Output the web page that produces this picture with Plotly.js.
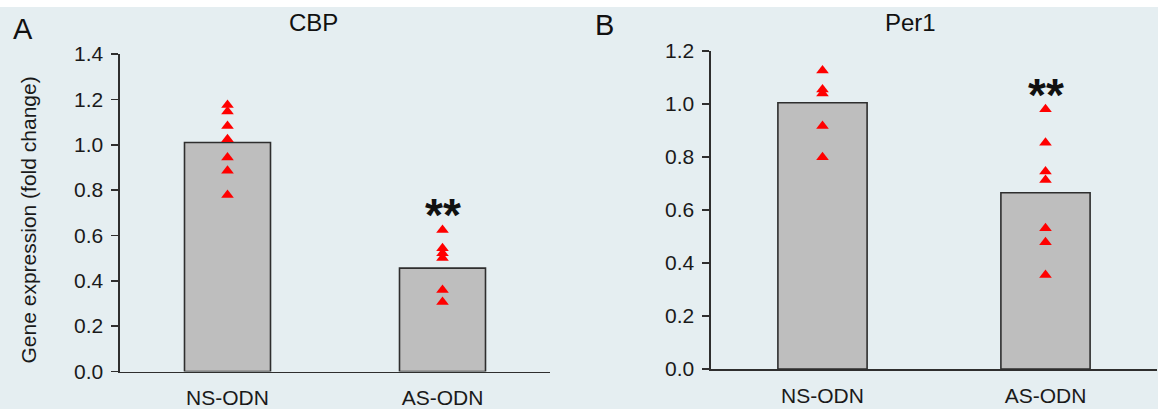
<!DOCTYPE html>
<html>
<head>
<meta charset="utf-8">
<script src="https://cdn.plot.ly/plotly-3.0.1.min.js"></script>
<style>
html,body{margin:0;padding:0;background:#ffffff;}
#chart{width:1158px;height:409px;}
</style>
</head>
<body>
<div id="chart"></div>
<script>
// ---- data ----
const categories = ["NS-ODN", "AS-ODN"];
const cbpMeans = [1.01, 0.456];
const cbpNS = [1.175, 1.146, 1.083, 1.024, 0.944, 0.885, 0.778];
const cbpAS = [0.624, 0.543, 0.521, 0.501, 0.359, 0.307];
const per1Means = [1.005, 0.665];
const per1NS = [1.126, 1.055, 1.040, 0.917, 0.799];
const per1AS = [0.980, 0.854, 0.745, 0.713, 0.531, 0.478, 0.355];
const panelTitles = ["CBP", "Per1"];
const panelLetters = ["A", "B"];
const yTitle = "Gene expression (fold change)";
const sigMark = "**";
const sigLevelA = 0.716;
const sigLevelB = 1.055;

const FONT = "Liberation Sans, Arial, sans-serif";
const BG = "#e5eef1";

function bar(y, xa, ya) {
  return {type: "bar", x: categories, y: y, xaxis: xa, yaxis: ya, width: 0.4,
    marker: {color: "#bebebe", line: {color: "#2e2e2e", width: 1.6}},
    hoverinfo: "skip", showlegend: false};
}
function pts(cat, ys, xa, ya) {
  return {type: "scatter", mode: "markers", x: ys.map(() => cat), y: ys, xaxis: xa, yaxis: ya,
    marker: {symbol: "triangle-up", color: "#ff0000", size: 11},
    hoverinfo: "skip", showlegend: false};
}

const data = [
  bar(cbpMeans, "x", "y"),
  pts(categories[0], cbpNS, "x", "y"),
  pts(categories[1], cbpAS, "x", "y"),
  bar(per1Means, "x2", "y2"),
  pts(categories[0], per1NS, "x2", "y2"),
  pts(categories[1], per1AS, "x2", "y2")
];

const H = 409, W = 1158;
const xaxisBase = {type: "category", range: [-0.5, 1.5], showline: true, linecolor: "#2e2e2e", linewidth: 1.6,
  ticks: "", showgrid: false, zeroline: false, fixedrange: true,
  tickfont: {family: FONT, size: 21, color: "#1a1a1a"}, ticklabelstandoff: 7};
const yaxisBase = {showline: true, linecolor: "#2e2e2e", linewidth: 1.6, ticks: "outside", ticklen: 7,
  tickwidth: 1.6, tickcolor: "#2e2e2e", showgrid: false, zeroline: false, dtick: 0.2, tickformat: ".1f",
  tickfont: {family: FONT, size: 21, color: "#1a1a1a"}, ticklabelstandoff: 4, fixedrange: true};

const layout = {
  width: W, height: H,
  margin: {l: 0, r: 0, t: 0, b: 0},
  paper_bgcolor: "#ffffff",
  plot_bgcolor: "rgba(0,0,0,0)",
  xaxis: Object.assign({}, xaxisBase, {domain: [120 / W, 550 / W], anchor: "y"}),
  yaxis: Object.assign({}, yaxisBase, {domain: [(H - 371.5) / H, (H - 54) / H], range: [0, 1.4], anchor: "x"}),
  xaxis2: Object.assign({}, xaxisBase, {domain: [711 / W, 1157 / W], anchor: "y2"}),
  yaxis2: Object.assign({}, yaxisBase, {domain: [(H - 369) / H, (H - 51) / H], range: [0, 1.2], anchor: "x2"}),
  shapes: [{type: "rect", xref: "paper", yref: "paper", x0: 0, x1: 1, y0: 0, y1: (H - 7) / H,
    fillcolor: BG, line: {width: 0}, layer: "below"}],
  annotations: [
    {text: panelTitles[0], xref: "paper", yref: "paper", x: 313 / W, y: (H - 23) / H, showarrow: false,
      font: {family: FONT, size: 24, color: "#111"}, xanchor: "center", yanchor: "middle"},
    {text: panelTitles[1], xref: "paper", yref: "paper", x: 910 / W, y: (H - 22) / H, showarrow: false,
      font: {family: FONT, size: 24, color: "#111"}, xanchor: "center", yanchor: "middle"},
    {text: panelLetters[0], xref: "paper", yref: "paper", x: 23 / W, y: (H - 29) / H, showarrow: false,
      font: {family: FONT, size: 29, color: "#111"}, xanchor: "center", yanchor: "middle"},
    {text: panelLetters[1], xref: "paper", yref: "paper", x: 604 / W, y: (H - 25) / H, showarrow: false,
      font: {family: FONT, size: 29, color: "#111"}, xanchor: "center", yanchor: "middle"},
    {text: yTitle, xref: "paper", yref: "paper", x: 28 / W, y: (H - 220.5) / H, showarrow: false,
      textangle: -90, font: {family: FONT, size: 21, color: "#1a1a1a"}, xanchor: "center", yanchor: "middle"},
    {text: "<b>" + sigMark + "</b>", xref: "x", yref: "y", x: categories[1], y: sigLevelA, showarrow: false,
      yshift: -6, font: {family: FONT, size: 46, color: "#111"}, xanchor: "center", yanchor: "middle"},
    {text: "<b>" + sigMark + "</b>", xref: "x2", yref: "y2", x: categories[1], y: sigLevelB, showarrow: false,
      yshift: -6, font: {family: FONT, size: 46, color: "#111"}, xanchor: "center", yanchor: "middle"}
  ]
};

Plotly.newPlot("chart", data, layout, {displayModeBar: false, staticPlot: true});
</script>
</body>
</html>
